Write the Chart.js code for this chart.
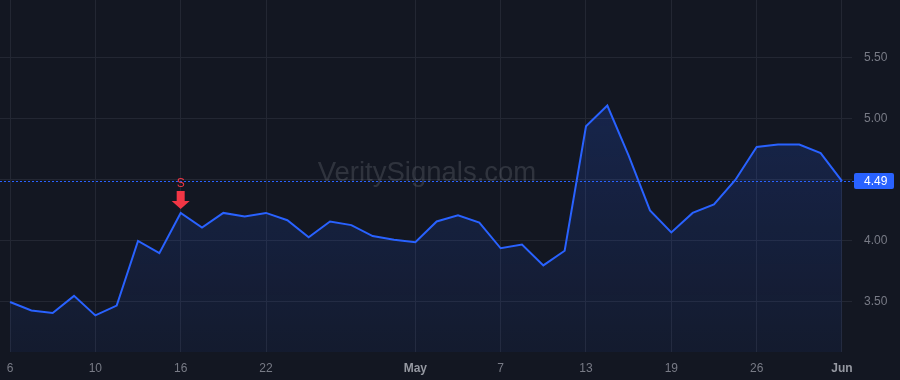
<!DOCTYPE html>
<html>
<head>
<meta charset="utf-8">
<script src="https://cdn.jsdelivr.net/npm/chart.js@4"></script>
<style>
  html, body { margin: 0; padding: 0; background: #131722; }
  #wrap { width: 900px; height: 380px; position: relative; }
  canvas { display: block; }
</style>
</head>
<body>
<div id="wrap"><canvas id="c" width="900" height="380"></canvas></div>
<script>
// ---- data ----
const dates = ['2026-04-06','2026-04-07','2026-04-08','2026-04-09','2026-04-10',
  '2026-04-13','2026-04-14','2026-04-15','2026-04-16','2026-04-17',
  '2026-04-20','2026-04-21','2026-04-22','2026-04-23','2026-04-24',
  '2026-04-27','2026-04-28','2026-04-29','2026-04-30','2026-05-01',
  '2026-05-04','2026-05-05','2026-05-06','2026-05-07','2026-05-08',
  '2026-05-11','2026-05-12','2026-05-13','2026-05-14','2026-05-15',
  '2026-05-18','2026-05-19','2026-05-20','2026-05-21','2026-05-22',
  '2026-05-26','2026-05-27','2026-05-28','2026-05-29','2026-06-01'];
const prices = [3.50,3.43,3.41,3.55,3.39,3.47,4.00,3.90,4.23,4.11,
  4.23,4.20,4.23,4.17,4.03,4.16,4.13,4.04,4.01,3.99,
  4.16,4.21,4.15,3.94,3.97,3.80,3.92,4.94,5.11,4.70,
  4.25,4.07,4.23,4.30,4.50,4.77,4.79,4.79,4.72,4.49];
const xTickIndex = [0,4,8,12,19,23,27,31,35,39];
const xTickText  = ['6','10','16','22','May','7','13','19','26','Jun'];
const xTickMajor = ['May','Jun'];
const yTicks = [3.5,4.0,4.5,5.0,5.5];
const signalIndex = 8;
const signalText = 'S';
const watermarkText = 'VeritySignals.com';
const lastPrice = prices[prices.length - 1];

const FONT = 'Arial, "Liberation Sans", sans-serif';

const points = prices.map((v, i) => ({ x: i, y: v }));

function isMajor(c) {
  if (!c || !c.tick) return false;
  const k = xTickIndex.indexOf(c.tick.value);
  return k >= 0 && xTickMajor.includes(xTickText[k]);
}
function zeroPad(scale) {
  scale.paddingTop = 0; scale.paddingBottom = 0;
  scale.paddingLeft = 0; scale.paddingRight = 0;
}

const overlay = {
  id: 'overlay',
  beforeDatasetsDraw(chart) {
    const { ctx, chartArea } = chart;
    ctx.save();
    ctx.font = '27.5px ' + FONT;
    ctx.fillStyle = 'rgba(178,181,190,0.18)';
    ctx.textAlign = 'center';
    ctx.textBaseline = 'alphabetic';
    ctx.fillText(watermarkText, (chartArea.left + chartArea.right) / 2 + 1, 181);
    ctx.restore();
  },
  afterDatasetsDraw(chart) {
    const { ctx, chartArea, scales } = chart;
    const y = Math.round(scales.y.getPixelForValue(lastPrice)) + 0.5;
    ctx.save();
    ctx.strokeStyle = '#2962ff';
    ctx.lineWidth = 1;
    ctx.setLineDash([2, 2]);
    ctx.beginPath();
    ctx.moveTo(chartArea.left, y);
    ctx.lineTo(chartArea.right + 2, y);
    ctx.stroke();
    ctx.setLineDash([]);

    // signal marker
    const px = scales.x.getPixelForValue(signalIndex);
    const py = scales.y.getPixelForValue(prices[signalIndex]);
    const tip = py - 4;
    ctx.fillStyle = '#f23645';
    ctx.beginPath();
    ctx.moveTo(px - 4, tip - 18);
    ctx.lineTo(px + 4, tip - 18);
    ctx.lineTo(px + 4, tip - 8);
    ctx.lineTo(px + 9, tip - 8);
    ctx.lineTo(px, tip);
    ctx.lineTo(px - 9, tip - 8);
    ctx.lineTo(px - 4, tip - 8);
    ctx.closePath();
    ctx.fill();
    ctx.font = '12px ' + FONT;
    ctx.textAlign = 'center';
    ctx.textBaseline = 'alphabetic';
    ctx.fillText(signalText, px, tip - 22);
    ctx.restore();
  },
  afterDraw(chart) {
    const { ctx, chartArea, scales } = chart;
    const y = scales.y.getPixelForValue(lastPrice);
    ctx.save();
    ctx.fillStyle = '#2962ff';
    const bx = chartArea.right + 2, bw = 40, bh = 16;
    ctx.beginPath();
    ctx.roundRect(bx, Math.round(y - bh / 2), bw, bh, 2);
    ctx.fill();
    ctx.fillStyle = '#ffffff';
    ctx.font = '12px ' + FONT;
    ctx.textAlign = 'left';
    ctx.textBaseline = 'middle';
    ctx.fillText(lastPrice.toFixed(2), chartArea.right + 12, y + 1);
    ctx.restore();
  }
};

const ctx = document.getElementById('c').getContext('2d');
new Chart(ctx, {
  type: 'line',
  data: {
    datasets: [{
      data: points,
      borderColor: '#2962ff',
      borderWidth: 2,
      pointRadius: 0,
      pointHoverRadius: 0,
      tension: 0,
      fill: 'start',
      backgroundColor(context) {
        const { chart } = context;
        const area = chart.chartArea;
        if (!area) return 'rgba(41,98,255,0.12)';
        const g = chart.ctx.createLinearGradient(0, area.top, 0, area.bottom);
        g.addColorStop(0, 'rgba(41,98,255,0.24)');
        g.addColorStop(1, 'rgba(41,98,255,0.06)');
        return g;
      }
    }]
  },
  options: {
    responsive: false,
    animation: false,
    events: [],
    layout: { padding: 0 },
    plugins: { legend: { display: false }, tooltip: { enabled: false } },
    scales: {
      x: {
        type: 'linear',
        position: 'bottom',
        min: -0.47,
        max: 39.47,
        afterFit(scale) { scale.height = 28; zeroPad(scale); },
        afterBuildTicks(scale) { scale.ticks = xTickIndex.map(v => ({ value: v })); },
        border: { display: false },
        grid: { color: '#232733', drawTicks: false, lineWidth: 1 },
        ticks: {
          padding: 9,
          maxRotation: 0,
          autoSkip: false,
          callback(value) {
            const k = xTickIndex.indexOf(value);
            return k >= 0 ? xTickText[k] : '';
          },
          color(c) { return isMajor(c) ? '#9598a1' : '#787b86'; },
          font(c) { return { family: FONT, size: 12, weight: isMajor(c) ? 'bold' : 'normal' }; }
        }
      },
      y: {
        type: 'linear',
        position: 'right',
        min: 3.09,
        max: 5.975,
        afterFit(scale) { scale.width = 48; zeroPad(scale); },
        afterBuildTicks(scale) { scale.ticks = yTicks.map(v => ({ value: v })); },
        border: { display: false },
        grid: { color: '#232733', drawTicks: false, lineWidth: 1 },
        ticks: {
          padding: 12,
          color: '#787b86',
          font: { family: FONT, size: 12 },
          callback(value) {
            if (Math.abs(value - lastPrice) < 0.05) return '';
            return Number(value).toFixed(2);
          }
        }
      }
    }
  },
  plugins: [overlay]
});
</script>
</body>
</html>
